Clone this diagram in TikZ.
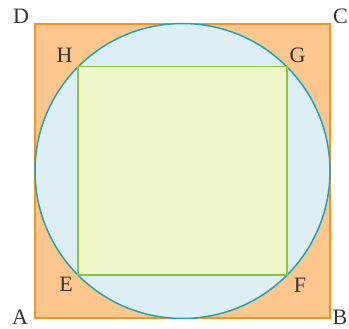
\documentclass[tikz,border=0pt]{standalone}
\usepackage{fontspec}
\setmainfont{Liberation Serif}
\definecolor{orfill}{HTML}{FDC68C}
\definecolor{ordraw}{HTML}{F7941D}
\definecolor{cifill}{HTML}{DDEEF4}
\definecolor{cidraw}{HTML}{1EA5B4}
\definecolor{sqfill}{HTML}{EEF6CA}
\definecolor{sqdraw}{HTML}{8CC63E}
\begin{document}
\begin{tikzpicture}[x=1pt,y=-1pt,
  lbl/.style={font=\fontsize{22}{22}\selectfont, inner sep=0pt, text=black!80}]
\useasboundingbox (0,0) rectangle (349,329);
\coordinate (A) at (35,318);
\coordinate (B) at (330,318);
\coordinate (C) at (330,24);
\coordinate (D) at (35,24);
\coordinate (O) at (182.5,171);
\coordinate (E) at (78.2,275.3);
\coordinate (F) at (286.8,275.3);
\coordinate (G) at (286.8,66.7);
\coordinate (H) at (78.2,66.7);
\draw[line width=2pt, draw=ordraw, fill=orfill] (A) -- (B) -- (C) -- (D) -- cycle;
\draw[line width=1.5pt, draw=cidraw, fill=cifill] (O) circle[radius=147.5];
\draw[line width=1.6pt, draw=sqdraw, fill=sqfill] (E) -- (F) -- (G) -- (H) -- cycle;
\node[lbl] (lD) at (21,16) {D};
\node[lbl] (lC) at (340.5,16.5) {C};
\node[lbl] (lA) at (20,317.5) {A};
\node[lbl] (lB) at (340,317.5) {B};
\node[lbl] (lH) at (64.5,55.5) {H};
\node[lbl] (lG) at (297.5,55.5) {G};
\node[lbl] (lE) at (66,284) {E};
\node[lbl] (lF) at (300,285) {F};
\end{tikzpicture}
\end{document}
